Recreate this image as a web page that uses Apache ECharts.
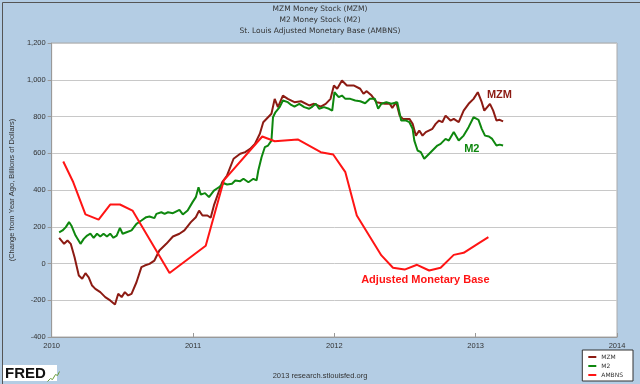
<!DOCTYPE html>
<html>
<head>
<meta charset="utf-8">
<script src="https://cdn.jsdelivr.net/npm/echarts@6/dist/echarts.min.js"></script>
<style>
html,body{margin:0;padding:0;}
#c{width:640px;height:384px;}
</style>
</head>
<body>
<div id="c"></div>
<script>
var titles = ['MZM Money Stock (MZM)', 'M2 Money Stock (M2)', 'St. Louis Adjusted Monetary Base (AMBNS)'];
var yAxisName = '(Change from Year Ago, Billions of Dollars)';
var seriesNames = ['MZM', 'M2', 'AMBNS'];
var xTicks = [2010, 2011, 2012, 2013, 2014];
var yTicks = [-400, -200, 0, 200, 400, 600, 800, 1000, 1200];

var mzmYears = [2010.053,2010.088,2010.112,2010.135,2010.162,2010.192,2010.216,2010.239,2010.262,2010.286,2010.309,2010.344,2010.379,2010.414,2010.448,2010.471,2010.495,2010.518,2010.541,2010.565,2010.600,2010.635,2010.658,2010.692,2010.727,2010.762,2010.811,2010.858,2010.904,2010.939,2010.985,2011.020,2011.043,2011.067,2011.102,2011.125,2011.148,2011.206,2011.241,2011.287,2011.334,2011.369,2011.404,2011.438,2011.473,2011.497,2011.531,2011.555,2011.578,2011.601,2011.636,2011.671,2011.718,2011.764,2011.822,2011.857,2011.904,2011.939,2011.973,2011.997,2012.020,2012.054,2012.089,2012.136,2012.183,2012.206,2012.229,2012.264,2012.298,2012.357,2012.392,2012.410,2012.438,2012.462,2012.485,2012.531,2012.554,2012.577,2012.601,2012.624,2012.647,2012.694,2012.717,2012.741,2012.764,2012.787,2012.822,2012.845,2012.880,2012.915,2012.950,2012.985,2013.015,2013.043,2013.061,2013.101,2013.124,2013.147,2013.170,2013.194];
var mzmValues = [140,107,125,107,34,-65,-83,-53,-75,-120,-138,-156,-183,-201,-223,-165,-183,-156,-174,-165,-102,-20,-11,-2,16,71,107,147,162,180,225,252,288,261,261,249,316,442,479,570,597,606,624,651,706,769,796,815,896,851,914,896,878,883,860,869,854,869,896,969,951,996,969,969,951,924,938,914,878,869,869,847,878,805,787,787,760,696,724,696,715,733,760,778,769,805,778,787,769,832,869,896,932,878,832,869,832,778,782,773];

var m2Years = [2010.053,2010.077,2010.100,2010.123,2010.139,2010.169,2010.204,2010.227,2010.251,2010.274,2010.297,2010.321,2010.344,2010.367,2010.391,2010.414,2010.437,2010.460,2010.483,2010.502,2010.530,2010.565,2010.600,2010.635,2010.669,2010.692,2010.727,2010.741,2010.776,2010.799,2010.823,2010.858,2010.904,2010.928,2010.962,2010.997,2011.020,2011.039,2011.055,2011.085,2011.113,2011.148,2011.183,2011.218,2011.241,2011.276,2011.299,2011.334,2011.357,2011.392,2011.427,2011.450,2011.462,2011.485,2011.508,2011.531,2011.555,2011.566,2011.583,2011.613,2011.636,2011.671,2011.695,2011.718,2011.752,2011.787,2011.822,2011.845,2011.869,2011.892,2011.927,2011.962,2011.985,2012.001,2012.031,2012.054,2012.078,2012.113,2012.148,2012.183,2012.218,2012.252,2012.287,2012.310,2012.333,2012.368,2012.403,2012.445,2012.473,2012.508,2012.531,2012.554,2012.566,2012.589,2012.612,2012.636,2012.659,2012.694,2012.729,2012.752,2012.787,2012.810,2012.845,2012.880,2012.915,2012.950,2012.985,2013.020,2013.043,2013.066,2013.094,2013.117,2013.147,2013.170,2013.194];
var m2Values = [170,180,198,225,207,152,107,134,152,162,140,162,147,162,147,162,140,152,194,162,170,180,216,234,252,256,247,270,279,270,279,274,292,267,288,334,361,415,375,383,361,397,415,437,430,434,452,448,461,442,461,452,506,578,633,642,669,796,823,851,887,878,863,854,869,851,842,854,869,842,851,842,832,932,905,914,896,896,887,883,872,896,896,842,869,878,869,878,778,778,769,733,669,615,606,570,588,615,642,651,678,669,715,669,696,742,796,782,733,696,691,678,642,647,642];

var ambnsYears = [2010.082,2010.153,2010.239,2010.332,2010.414,2010.483,2010.572,2010.834,2011.090,2011.218,2011.490,2011.578,2011.741,2011.904,2011.992,2012.078,2012.159,2012.333,2012.415,2012.497,2012.585,2012.671,2012.752,2012.845,2012.915,2013.020,2013.090];
var ambnsValues = [555,442,267,239,321,321,288,-52,97,452,691,665,675,606,593,497,261,44,-23,-33,-7,-38,-23,47,58,110,143];

var seriesColors = ['#8c1b13', '#0e870e', '#ff1414'];
var annotationText = ['MZM', 'M2', 'Adjusted Monetary Base'];
var annotationYears = [2013.168, 2012.973, 2012.644];
var annotationValues = [918, 624, -89];

function pairs(xs, ys) { return xs.map(function (x, i) { return [x, ys[i]]; }); }

var allYears = [mzmYears, m2Years, ambnsYears];
var allValues = [mzmValues, m2Values, ambnsValues];

var chart = echarts.init(document.getElementById('c'), null, {renderer: 'canvas'});
var series = seriesNames.map(function (name, i) {
  return {
    name: name,
    type: 'line',
    data: pairs(allYears[i], allValues[i]),
    showSymbol: false,
    symbol: 'none',
    lineStyle: {width: 2, color: seriesColors[i]},
    itemStyle: {color: seriesColors[i]},
    z: 2 + i,
    animation: false,
    markPoint: {
      symbol: 'circle',
      symbolSize: 0,
      silent: true,
      animation: false,
      label: {
        show: true,
        position: 'inside',
        formatter: annotationText[i],
        fontFamily: 'Liberation Sans',
        fontWeight: 'bold',
        fontSize: 11,
        color: seriesColors[i]
      },
      data: [{coord: [annotationYears[i], annotationValues[i]]}]
    }
  };
});

chart.setOption({
  animation: false,
  backgroundColor: '#b4cde4',
  textStyle: {fontFamily: 'Liberation Sans'},
  title: {
    text: titles.join('\n'),
    left: 'center',
    top: -1,
    textStyle: {fontSize: 7.5, fontWeight: 'normal', color: '#333', lineHeight: 11, fontFamily: 'DejaVu Sans'}
  },
  grid: {left: 44, right: 23, top: 43, bottom: 47, show: true, backgroundColor: '#fff', borderColor: '#aaa', borderWidth: 1},
  legend: {
    orient: 'vertical',
    right: 7,
    bottom: 3,
    itemWidth: 8,
    itemHeight: 2,
    itemGap: 3,
    icon: 'rect',
    padding: [4, 10, 3, 6],
    backgroundColor: '#fff',
    borderColor: '#333',
    borderWidth: 1,
    borderRadius: 0,
    textStyle: {fontSize: 6, color: '#333', fontFamily: 'DejaVu Sans'},
    data: seriesNames
  },
  xAxis: {
    type: 'value',
    min: xTicks[0],
    max: xTicks[xTicks.length - 1],
    interval: 1,
    axisLine: {show: true, onZero: false, lineStyle: {color: '#999'}},
    axisTick: {show: true, inside: true, length: 4, lineStyle: {color: '#999'}},
    axisLabel: {color: '#333', fontSize: 7.5, margin: 5, formatter: function (v) { return String(v); }},
    splitLine: {show: false}
  },
  yAxis: {
    type: 'value',
    min: yTicks[0],
    max: yTicks[yTicks.length - 1],
    interval: 200,
    name: yAxisName,
    nameLocation: 'middle',
    nameGap: 34,
    nameTextStyle: {fontSize: 7.5, color: '#333'},
    axisLine: {show: true, lineStyle: {color: '#999'}},
    axisTick: {show: true, inside: false, length: 4, lineStyle: {color: '#999'}},
    axisLabel: {color: '#333', fontSize: 7.5, margin: 6, formatter: function (v) { return v.toLocaleString('en-US'); }},
    splitLine: {show: true, lineStyle: {color: '#c8c8c8', width: 1}}
  },
  graphic: [
    {type: 'rect', left: 0, top: 0, shape: {width: 639, height: 383}, style: {fill: 'none', stroke: '#555', lineWidth: 1}, silent: true, z: 100},
    {type: 'rect', left: 3, top: 365, shape: {width: 54, height: 16}, style: {fill: '#fff'}, silent: true},
    {type: 'text', left: 5, top: 366, style: {text: 'FRED', fill: '#111', font: 'bold 15px "Liberation Sans"'}, silent: true},
    {type: 'polyline', left: 45, top: 369, shape: {points: [[0, 10], [3, 7], [5, 8], [8, 3], [10, 4], [12, 0]]}, style: {stroke: '#6a9c3a', lineWidth: 1, fill: 'none'}, silent: true},
    {type: 'text', left: 'center', top: 372, style: {text: '2013 research.stlouisfed.org', fill: '#333', font: '7.5px "Liberation Sans"'}, silent: true}
  ],
  series: series
});
</script>
</body>
</html>
